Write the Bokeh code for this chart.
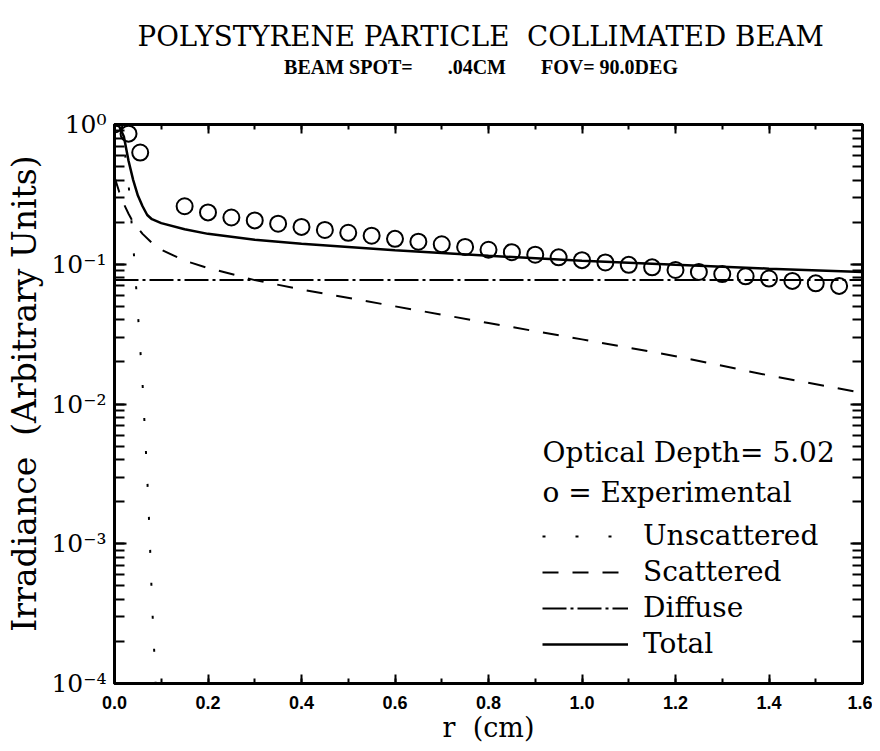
import math
from bokeh.plotting import figure
from bokeh.models import (Range1d, LinearAxis, LogAxis, SingleIntervalTicker, LogTicker,
                          NumeralTickFormatter, CustomJSTickFormatter, Label, Legend, LegendItem)
from bokeh.embed import file_html
from bokeh.resources import INLINE

# ---------------- data ----------------
exp_r = [0.0, 0.03, 0.055, 0.15, 0.20, 0.25, 0.30, 0.35, 0.40, 0.45, 0.50, 0.55, 0.60, 0.65,
         0.70, 0.75, 0.80, 0.85, 0.90, 0.95, 1.00, 1.05, 1.10, 1.15, 1.20, 1.25, 1.30, 1.35,
         1.40, 1.45, 1.50, 1.55]
exp_v = [1.0, 0.86, 0.63, 0.26, 0.235, 0.216, 0.206, 0.195, 0.185, 0.176, 0.168, 0.160, 0.152,
         0.145, 0.139, 0.133, 0.127, 0.122, 0.117, 0.112, 0.107, 0.103, 0.099, 0.095, 0.091,
         0.088, 0.085, 0.082, 0.079, 0.076, 0.073, 0.070]

unsc_r = [0.0, 0.01, 0.02, 0.03, 0.04, 0.05, 0.06, 0.07, 0.075, 0.08, 0.088]
unsc_v = [1.0, 0.93, 0.72, 0.38, 0.14, 0.045, 0.014, 0.003, 0.0012, 0.0004, 0.0001]

scat_r = [0.0, 0.01, 0.02, 0.03, 0.04, 0.06, 0.08, 0.10, 0.15, 0.2, 0.3, 0.4, 0.6, 0.8,
          1.0, 1.2, 1.4, 1.6]
scat_v = [0.42, 0.33, 0.27, 0.23, 0.20, 0.165, 0.142, 0.127, 0.106, 0.094, 0.077, 0.066,
          0.050, 0.038, 0.029, 0.022, 0.016, 0.012]

diff_r = [0.0, 0.8, 1.6]
diff_v = [0.077, 0.077, 0.077]

tot_r = [0.0, 0.01, 0.02, 0.03, 0.04, 0.05, 0.06, 0.07, 0.08, 0.10, 0.15, 0.2, 0.3, 0.4,
         0.6, 0.8, 1.0, 1.2, 1.4, 1.6]
tot_v = [1.0, 0.97, 0.82, 0.55, 0.40, 0.31, 0.26, 0.225, 0.21, 0.197, 0.178, 0.165, 0.150,
         0.140, 0.126, 0.115, 0.106, 0.099, 0.093, 0.088]

series_labels = ["Unscattered", "Scattered", "Diffuse", "Total"]
NB = "\u00a0"
title_text = "POLYSTYRENE PARTICLE" + NB * 2 + "COLLIMATED BEAM"
subtitle_text = "BEAM SPOT=" + NB * 7 + ".04CM" + NB * 7 + "FOV= 90.0DEG" + NB * 3
header_texts = ["Optical Depth= 5.02", "o = Experimental"]
x_label = "r" + NB * 2 + "(cm)"
y_label = NB * 2 + "Irradiance" + NB * 2 + "(Arbitrary Units)"

# ---------------- layout constants (page pixels) ----------------
FL, FT, FR, FB = 114, 124, 862, 683   # frame edges on page
SERIF = "DejaVu Serif"

def sx(px):
    return px - FL

def sy(py):
    return FB - py

p = figure(frame_width=FR - FL, frame_height=FB - FT,
           x_range=Range1d(0, 1.6), y_range=Range1d(1e-4, 1.0), y_axis_type="log",
           output_backend="svg", toolbar_location=None,
           min_border_left=FL, min_border_top=FT, min_border_right=10,
           min_border_bottom=66)
p.xgrid.visible = False
p.ygrid.visible = False
p.outline_line_color = "black"
p.outline_line_width = 3
p.background_fill_color = "white"
p.border_fill_color = "white"

# ---- axes ----
xt = SingleIntervalTicker(interval=0.2, num_minor_ticks=2)
yt = LogTicker(num_minor_ticks=10)
sup_js = """
const e = Math.round(Math.log10(tick));
const m = {"0":"\\u2070","1":"\\u00b9","2":"\\u00b2","3":"\\u00b3","4":"\\u2074","-":"\\u207b"};
return "10" + String(e).split("").map(c => m[c]).join("");
"""

xa = p.xaxis[0]
xa.ticker = xt
xa.formatter = NumeralTickFormatter(format="0.0")
ya = p.yaxis[0]
ya.ticker = yt
ya.formatter = CustomJSTickFormatter(code=sup_js)

top = LinearAxis(ticker=SingleIntervalTicker(interval=0.2, num_minor_ticks=2))
right = LogAxis(ticker=LogTicker(num_minor_ticks=10))
p.add_layout(top, "above")
p.add_layout(right, "right")

for ax in (xa, top):
    ax.major_tick_in = 9
    ax.major_tick_out = 0
    ax.minor_tick_in = 5
    ax.minor_tick_out = 0
for ax in (ya, right):
    ax.major_tick_in = 12
    ax.major_tick_out = 0
    ax.minor_tick_in = 10
    ax.minor_tick_out = 0
for ax in (xa, top, ya, right):
    ax.axis_line_width = 3
    ax.major_tick_line_width = 2
    ax.minor_tick_line_width = 2
    ax.axis_line_color = "black"
    ax.major_tick_line_color = "black"
    ax.minor_tick_line_color = "black"

for ax in (top, right):
    ax.major_label_text_color = None
    ax.major_label_text_font_size = "2px"
    ax.major_label_standoff = 0

# subtitle line carried by the top axis label
top.axis_label = subtitle_text
top.axis_label_text_font = "Liberation Serif"
top.axis_label_text_font_size = "20px"
top.axis_label_text_font_style = "bold"
top.axis_label_text_color = "black"
top.axis_label_standoff = 47

xa.major_label_text_font = "Liberation Sans"
xa.major_label_text_font_style = "bold"
xa.major_label_text_font_size = "18px"
xa.major_label_text_color = "black"
xa.major_label_standoff = 12
xa.axis_label = x_label
xa.axis_label_text_font = SERIF
xa.axis_label_text_font_size = "27px"
xa.axis_label_text_font_style = "normal"
xa.axis_label_text_color = "black"
xa.axis_label_standoff = 0

ya.major_label_text_font = SERIF
ya.major_label_text_font_size = "25px"
ya.major_label_text_color = "black"
ya.major_label_standoff = 8
ya.axis_label = y_label
ya.axis_label_text_font = SERIF
ya.axis_label_text_font_size = "33px"
ya.axis_label_text_line_height = 1.0
ya.axis_label_text_font_style = "normal"
ya.axis_label_text_color = "black"
ya.axis_label_standoff = 4

# ---- title ----
p.title.text = title_text
p.title.text_font = SERIF
p.title.text_font_size = "27.7px"
p.title.text_font_style = "normal"
p.title.text_color = "black"
p.title.align = "left"
p.title.offset = 137 - FL
p.title.standoff = 0

# ---- data glyphs ----
r_un = p.line(unsc_r, unsc_v, line_color="black", line_width=2, line_dash="3 30")
r_sc = p.line(scat_r, scat_v, line_color="black", line_width=2, line_dash="16 14")
r_di = p.line(diff_r, diff_v, line_color="black", line_width=2, line_dash="24 4 3 4")
r_to = p.line(tot_r, tot_v, line_color="black", line_width=2.5)
p.scatter(exp_r, exp_v, marker="circle", size=16, fill_color=None, line_color="black",
          line_width=2)

legend = Legend(items=[LegendItem(label=series_labels[0], renderers=[r_un]),
                       LegendItem(label=series_labels[1], renderers=[r_sc]),
                       LegendItem(label=series_labels[2], renderers=[r_di]),
                       LegendItem(label=series_labels[3], renderers=[r_to])],
                location=(sx(542), sy(660)), glyph_width=86, glyph_height=30,
                label_height=30, spacing=3, padding=0, margin=0, label_standoff=15,
                border_line_color=None, background_fill_alpha=0,
                label_text_font=SERIF, label_text_font_size="28px",
                label_text_color="black")
p.add_layout(legend)

# ---- legend header texts ----
def add_label(text, px, py, size, font=SERIF, align="left"):
    p.add_layout(Label(x=sx(px), y=sy(py), x_units="screen", y_units="screen", text=text,
                       text_font=font, text_font_size=size, text_align=align,
                       text_baseline="middle", text_color="black"))

add_label(header_texts[0], 542, 452, "28px")
add_label(header_texts[1], 542, 492, "28px")

open("out.html", "w", encoding="utf-8").write(file_html(p, INLINE))
